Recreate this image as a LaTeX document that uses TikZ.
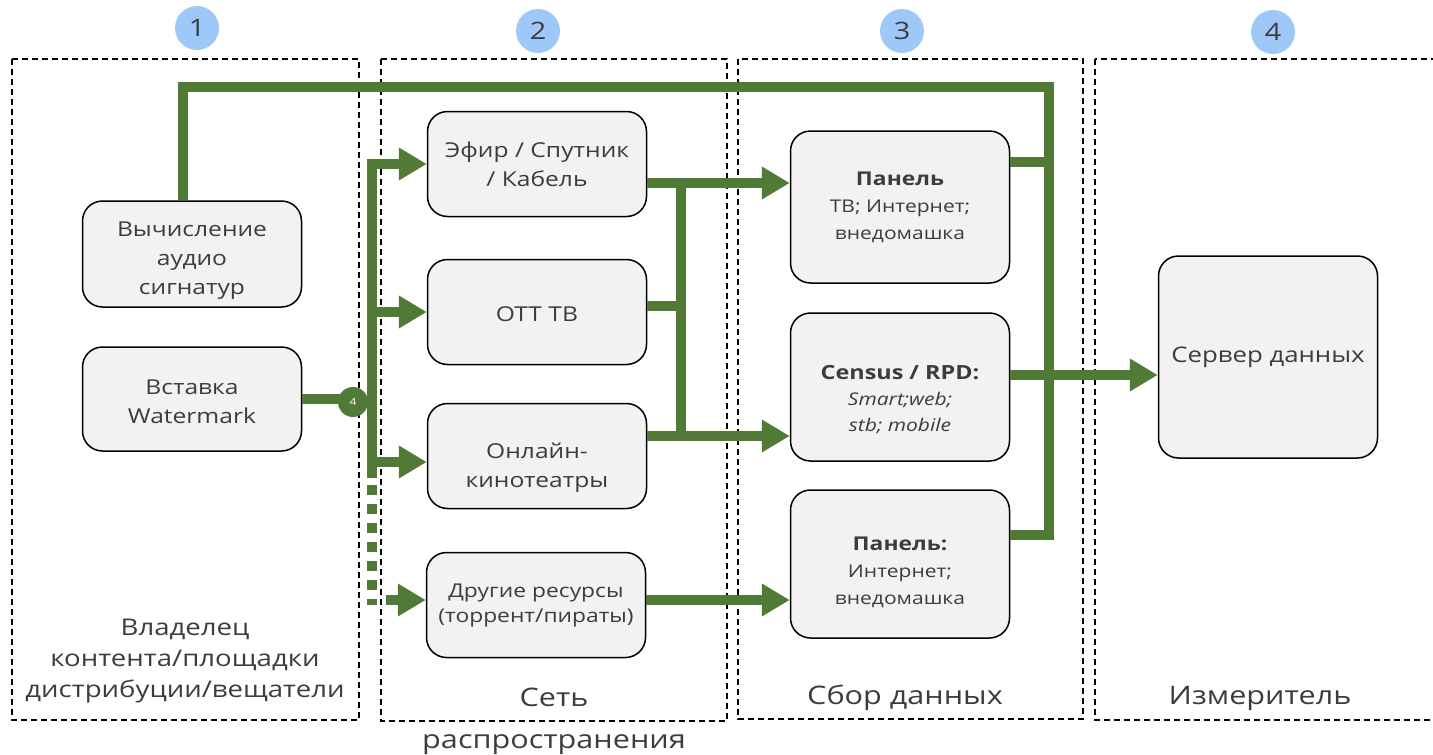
\documentclass[tikz,border=0pt]{standalone}
\usepackage{fontspec}
\setmainfont[FakeStretch=1.2]{Open Sans}
\usetikzlibrary{arrows.meta}

\definecolor{bargreen}{RGB}{80,122,53}
\definecolor{boxgray}{RGB}{242,242,242}
\definecolor{txtgray}{RGB}{60,60,60}
\definecolor{numblue}{RGB}{158,200,248}

% pushes the text of a box down
\newcommand{\lowtext}[1]{\rule{0pt}{#1}}

\tikzset{
  every picture/.style={line width=0.75pt},
  frame/.style={draw,line width=1.6pt,dash pattern=on 6pt off 4pt},
  box/.style={draw,line width=1.5pt,rounded corners=20pt,fill=boxgray,
    text=txtgray,align=center,minimum width=219pt,minimum height=105pt,
    font=\fontsize{20.5}{29}\selectfont},
  numc/.style={circle,fill=numblue,minimum size=44pt,inner sep=0pt,
    text=txtgray,font=\fontsize{24}{24}\selectfont},
  link/.style={draw=bargreen,line width=10pt},
  arr/.style={link,-{Triangle[length=28pt,width=31pt]}},
  caption/.style={text=txtgray,align=center,font=\fontsize{25.5}{31}\selectfont}
}

\begin{document}
\begin{tikzpicture}[x=1pt,y=-1pt]
  \useasboundingbox (0,0) rectangle (1433,755);

  % columns
  \draw[frame] (12,59) rectangle (359,720);
  \draw[frame] (381,59) rectangle (727,721);
  \draw[frame] (738,59) rectangle (1083,719);
  \draw[frame] (1095,59) rectangle (1450,720);

  \node[numc] (n1) at (197,28) {1};
  \node[numc] (n2) at (538,31) {2};
  \node[numc] (n3) at (902,31) {3};
  \node[numc] (n4) at (1273,32) {4};

  % boxes
  \node[box,minimum height=106pt] (audio) at (192,254) {\lowtext{27pt}Вычисление\\аудио\\сигнатур};
  \node[box,minimum height=104pt] (water) at (192,399) {\lowtext{21pt}Вставка\\Watermark};
  \node[box] (efir) at (537,164) {Эфир / Спутник\\/ Кабель};
  \node[box] (ott) at (537,312) {\lowtext{20pt}OTT TB};
  \node[box] (online) at (537,456) {\lowtext{38pt}Онлайн-\\кинотеатры};
  \node[box,font=\fontsize{19}{25}\selectfont] (other) at (536,605) {Другие ресурсы\\(торрент/пираты)};
  \node[box,minimum height=152pt,font=\fontsize{17.5}{27}\selectfont] (panel1) at (900,207)
    {\textbf{\fontsize{19}{27}\selectfont Панель}\\ТВ; Интернет;\\внедомашка};
  \node[box,minimum height=148pt,font=\fontsize{17.5}{26}\selectfont] (census) at (900,387)
    {\lowtext{40pt}\textbf{\fontsize{19.5}{26}\selectfont Census / RPD:}\\\textit{Smart;web;}\\\textit{stb; mobile}};
  \node[box,minimum height=148pt,font=\fontsize{17.5}{27}\selectfont] (panel2) at (900,564)
    {\lowtext{30pt}\textbf{\fontsize{19}{27}\selectfont Панель:}\\Интернет;\\внедомашка};
  \node[box,minimum height=202pt,font=\fontsize{21.5}{29}\selectfont] (server) at (1268,357) {Сервер данных};

  % captions
  \node[caption,font=\fontsize{23}{31}\selectfont] (cap1) at (185,661) {Владелец\\контента/площадки\\дистрибуции/вещатели};
  \node[caption,font=\fontsize{25.5}{42}\selectfont] (cap2) at (554,721) {Сеть\\распространения};
  \node[caption] (cap3) at (905,698) {Сбор данных};
  \node[caption] (cap4) at (1260,698) {Измеритель};

  % watermark bus
  \coordinate (lt) at (372,160);
  \coordinate (lb) at (372,478);
  \coordinate (m4) at (353,402);
  \draw[link] (water.east) -- (water.east -| m4);
  \node[circle,fill=bargreen,minimum size=30pt,inner sep=0pt,text=white,
    font=\fontsize{10}{10}\selectfont] (mark4) at (m4) {4};
  \draw[arr] (lb) |- (efir.west);
  \draw[arr] (ott.west -| lt) -- (ott.west);
  \draw[arr] ([yshift=-6pt]online.west -| lt) -- ([yshift=-6pt]online.west);
  \draw[link,dash pattern=on 10pt off 9pt] (372,485) -- (372,605);
  \draw[arr] ([xshift=-40pt,yshift=5pt]other.west) -- ([yshift=5pt]other.west);

  % distribution to data collection
  \coordinate (mj) at (681,0);
  \draw[arr] ([yshift=-19pt]efir.east) -- ([yshift=-19pt]efir.east -| panel1.west);
  \draw[link] ([yshift=-19pt]efir.east -| mj) -- ([yshift=20pt]online.east -| mj);
  \draw[link] ([yshift=6pt]ott.east) -- ([yshift=6pt]ott.east -| mj);
  \draw[arr] ([yshift=20pt]online.east) -- ([yshift=20pt]online.east -| census.west);
  \draw[arr] ([yshift=5pt]other.east) -- ([yshift=5pt]other.east -| panel2.west);

  % data collection to server
  \coordinate (rt) at (1049,87);
  \coordinate (rb) at (1049,535);
  \draw[link] ([xshift=-9pt]audio.north) |- (rt) -- (rb) -- (rb -| panel2.east);
  \draw[link] ([yshift=45pt]panel1.east) -- ([yshift=45pt]panel1.east -| rt);
  \draw[arr] ([yshift=12pt]census.east) -- ([yshift=12pt]census.east -| server.west);
\end{tikzpicture}
\end{document}
